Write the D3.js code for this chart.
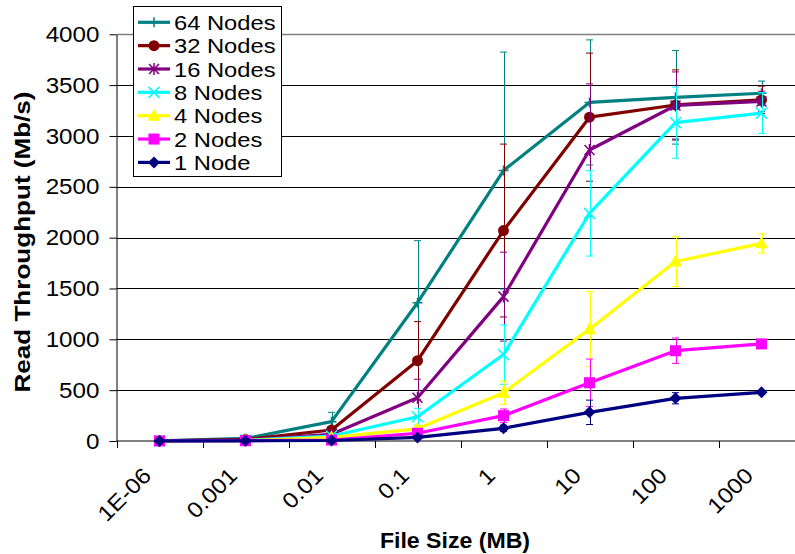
<!DOCTYPE html>
<html>
<head>
<meta charset="utf-8">
<script src="https://cdn.jsdelivr.net/npm/d3@7"></script>
<style>
  body { margin: 0; background: #fff; }
  text { font-family: "Liberation Sans", Arial, sans-serif; fill: #000; }
</style>
</head>
<body>
<div class="vis-holder"></div>
<script>
// file sizes (MB) used as x categories
var categories = ["1E-06", "0.001", "0.01", "0.1", "1", "10", "100", "1000"];
var yTicks = [0, 500, 1000, 1500, 2000, 2500, 3000, 3500, 4000];

// read throughput (Mb/s) and error bar half-length, per node count
var nodes64 = [2, 25, 190, 1360, 2660, 3330, 3380, 3420];
var err64   = [0, 5, 92, 610, 1165, 615, 460, 120];
var nodes32 = [1, 15, 108, 790, 2070, 3185, 3305, 3355];
var err32   = [0, 3, 20, 384, 850, 630, 345, 135];
var nodes16 = [1, 8, 66, 426, 1420, 2862, 3300, 3340];
var err16   = [0, 2, 15, 181, 437, 650, 330, 100];
var nodes8  = [1, 6, 49, 239, 850, 2239, 3131, 3225];
var err8    = [0, 1, 10, 83, 292, 420, 350, 200];
var nodes4  = [1, 4, 36, 120, 475, 1100, 1765, 1944];
var err4    = [0, 1, 8, 30, 114, 370, 245, 95];
var nodes2  = [1, 3, 10, 76, 249, 573, 888, 955];
var err2    = [0, 0, 3, 15, 66, 233, 125, 20];
var nodes1  = [1, 2, 5, 35, 125, 282, 420, 479];
var err1    = [0, 0, 2, 10, 30, 120, 55, 15];

var series = [
  {name: "64 Nodes", values: nodes64, err: err64, color: "#008080", marker: "plus"},
  {name: "32 Nodes", values: nodes32, err: err32, color: "#800000", marker: "circle"},
  {name: "16 Nodes", values: nodes16, err: err16, color: "#800080", marker: "star"},
  {name: "8 Nodes",  values: nodes8,  err: err8,  color: "#00FFFF", marker: "cross"},
  {name: "4 Nodes",  values: nodes4,  err: err4,  color: "#FFFF00", marker: "triangle"},
  {name: "2 Nodes",  values: nodes2,  err: err2,  color: "#FF00FF", marker: "square"},
  {name: "1 Node",   values: nodes1,  err: err1,  color: "#000080", marker: "diamond"}
];

var width = 795;
var height = 554;
var margin = {top: 34.3, bottom: 441, left: 116.5, right: 804.5};

var svg = d3.select('div.vis-holder')
            .append('svg')
            .attr('width', width)
            .attr('height', height)
            .style('display', 'block')
            .style('background', '#fff');

var xScale = d3.scaleBand()
               .domain(categories)
               .range([margin.left, margin.right]);
var half = xScale.bandwidth() / 2;
var cx = function(c) { return xScale(c) + half; };

var yScale = d3.scaleLinear()
               .domain([0, 4000])
               .range([margin.bottom, margin.top]);

// stretch text horizontally a bit, the source font renders wider than Arial
function stretch(sel, k) {
  sel.each(function() {
    var len = this.getComputedTextLength();
    d3.select(this).attr('textLength', len * k).attr('lengthAdjust', 'spacingAndGlyphs');
  });
}

// gridlines
svg.append("g")
   .selectAll("line")
   .data(yTicks.filter(function(d) { return d > 0; }))
   .enter()
   .append("line")
   .attr("x1", margin.left).attr("x2", width)
   .attr("y1", function(d) { return Math.round(yScale(d)) + 0.5; })
   .attr("y2", function(d) { return Math.round(yScale(d)) + 0.5; })
   .style("stroke", function(d) { return d == 4000 ? "#808080" : "#000"; })
   .style("stroke-width", function(d) { return d == 4000 ? 1.5 : 1; });

// y axis
var yAxis = svg.append("g")
               .attr("transform", "translate(" + margin.left + ",0)")
               .call(d3.axisLeft(yScale).tickValues(yTicks).tickFormat(d3.format("d"))
                       .tickSize(7).tickPadding(10).tickSizeOuter(0));
yAxis.select(".domain").style("stroke", "#000");
yAxis.selectAll(".tick line").style("stroke", "#000");
yAxis.selectAll("text")
     .style("font-family", '"Liberation Sans", Arial, sans-serif')
     .style("font-size", "22px")
     .call(stretch, 1.1);

// x axis line and ticks at category boundaries
var xAxis = svg.append("g");
xAxis.append("line")
     .attr("x1", margin.left).attr("x2", width)
     .attr("y1", yScale(0)).attr("y2", yScale(0))
     .style("stroke", "#000");
xAxis.selectAll("line.tk")
     .data(categories)
     .enter()
     .append("line")
     .attr("class", "tk")
     .attr("x1", function(d) { return Math.round(xScale(d)) + 0.5; })
     .attr("x2", function(d) { return Math.round(xScale(d)) + 0.5; })
     .attr("y1", yScale(0)).attr("y2", yScale(0) + 7)
     .style("stroke", "#000");
xAxis.selectAll("text")
     .data(categories)
     .enter()
     .append("text")
     .attr("text-anchor", "end")
     .attr("transform", function(d) {
       return "translate(" + (cx(d) - 7) + "," + (yScale(0) + 36) + ")rotate(-45)";
     })
     .style("font-size", "22px")
     .text(function(d) { return d; })
     .call(stretch, 1.1);

// marker shapes
function drawMarker(g, type, color) {
  if (type == "plus") {
    g.append("path").attr("d", "M-5,0H5M0,-5V5").style("stroke", color).style("stroke-width", 1.5);
  } else if (type == "circle") {
    g.append("circle").attr("r", 5.5).style("fill", color);
  } else if (type == "star") {
    g.append("path").attr("d", "M-5,-5L5,5M-5,5L5,-5M0,-6V6").style("stroke", color).style("stroke-width", 1.5);
  } else if (type == "cross") {
    g.append("path").attr("d", "M-5.5,-5.5L5.5,5.5M-5.5,5.5L5.5,-5.5").style("stroke", color).style("stroke-width", 1.5);
  } else if (type == "triangle") {
    g.append("path").attr("d", "M0,-7L6.5,5H-6.5Z").style("fill", color);
  } else if (type == "square") {
    g.append("rect").attr("x", -5.5).attr("y", -5.5).attr("width", 11).attr("height", 11).style("fill", color);
  } else if (type == "diamond") {
    g.append("path").attr("d", "M0,-6L6,0L0,6L-6,0Z").style("fill", color);
  }
}

var line = d3.line()
             .x(function(d, i) { return cx(categories[i]); })
             .y(function(d) { return yScale(d); });

series.forEach(function(s) {
  var g = svg.append("g");

  // error bars
  var eb = g.selectAll("g.eb")
            .data(s.values.map(function(v, i) { return {c: categories[i], v: v, e: s.err[i]}; })
                          .filter(function(d) { return d.e > 0; }))
            .enter()
            .append("g")
            .style("stroke", s.color)
            .style("stroke-width", 1);
  eb.append("line")
    .attr("x1", function(d) { return Math.round(cx(d.c)) + 0.5; })
    .attr("x2", function(d) { return Math.round(cx(d.c)) + 0.5; })
    .attr("y1", function(d) { return yScale(d.v + d.e); })
    .attr("y2", function(d) { return yScale(Math.max(0, d.v - d.e)); });
  eb.append("line")
    .attr("x1", function(d) { return cx(d.c) - 3.5; })
    .attr("x2", function(d) { return cx(d.c) + 3.5; })
    .attr("y1", function(d) { return yScale(d.v + d.e); })
    .attr("y2", function(d) { return yScale(d.v + d.e); });
  eb.append("line")
    .attr("x1", function(d) { return cx(d.c) - 3.5; })
    .attr("x2", function(d) { return cx(d.c) + 3.5; })
    .attr("y1", function(d) { return yScale(Math.max(0, d.v - d.e)); })
    .attr("y2", function(d) { return yScale(Math.max(0, d.v - d.e)); });

  g.append("path")
   .datum(s.values)
   .attr("d", line)
   .style("fill", "none")
   .style("stroke", s.color)
   .style("stroke-width", 3.2)
   .style("stroke-linejoin", "round");

  s.values.forEach(function(v, i) {
    var m = g.append("g").attr("transform", "translate(" + cx(categories[i]) + "," + yScale(v) + ")");
    drawMarker(m, s.marker, s.color);
  });
});

// legend
var legend = svg.append("g");
legend.append("rect")
      .attr("x", 133.5).attr("y", 6.5)
      .attr("width", 148).attr("height", 170)
      .style("fill", "#fff")
      .style("stroke", "#000");
series.forEach(function(s, i) {
  var ly = 22.3 + i * 23.35;
  legend.append("line")
        .attr("x1", 138).attr("x2", 170)
        .attr("y1", ly).attr("y2", ly)
        .style("stroke", s.color)
        .style("stroke-width", 3.2);
  var m = legend.append("g").attr("transform", "translate(154," + ly + ")");
  drawMarker(m, s.marker, s.color);
  legend.append("text")
        .attr("x", 174).attr("y", ly)
        .attr("dy", "0.36em")
        .style("font-size", "21px")
        .text(s.name)
        .call(stretch, 1.13);
});

// axis titles
var yLabel = svg.append("text")
                .attr("text-anchor", "middle")
                .attr("transform", "translate(30,242)rotate(-90)")
                .style("font-size", "22px")
                .style("font-weight", "bold")
                .text("Read Throughput (Mb/s)");
yLabel.attr("textLength", 301).attr("lengthAdjust", "spacingAndGlyphs");

var xLabel = svg.append("text")
                .attr("text-anchor", "middle")
                .attr("x", 455).attr("y", 548)
                .style("font-size", "22px")
                .style("font-weight", "bold")
                .text("File Size (MB)")
                .call(stretch, 1.05);
</script>
</body>
</html>
